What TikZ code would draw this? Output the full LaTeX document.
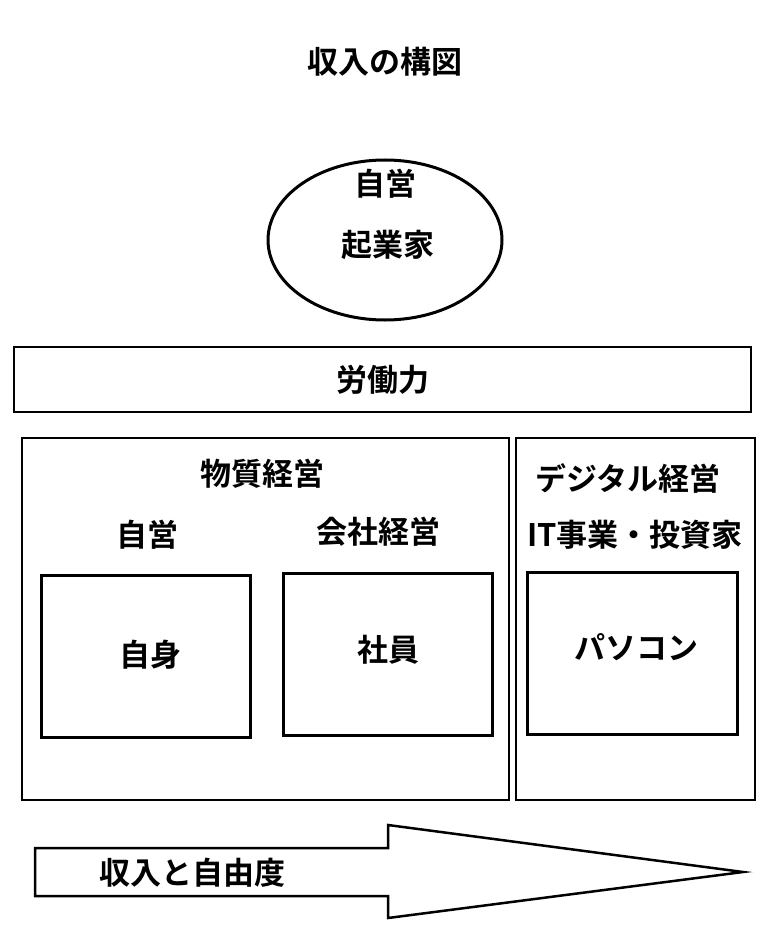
\documentclass[tikz,border=0pt]{standalone}
\usepackage{fontspec}
\setmainfont{Noto Sans CJK JP}[BoldFont={Noto Sans CJK JP Bold}]
\usetikzlibrary{shapes.geometric}
\tikzset{
    frame/.style = {draw, rectangle, line width=1.2pt, inner sep=0pt},
    block/.style = {draw, rectangle, line width=3pt, inner sep=0pt,
        minimum width=209pt, minimum height=162pt},
    txt/.style = {font=\fontsize{31}{36}\selectfont\bfseries, inner sep=0pt},
    bigarrow/.style = {draw, line width=2.5pt, line join=miter}
}

\begin{document}
\begin{tikzpicture}[x=1pt, y=-1pt]
    \useasboundingbox (0,0) rectangle (773,936);
    \node [txt] (title) at (385,62) {収入の構図};
    % top
    \node [draw, ellipse, line width=3pt, minimum width=234pt, minimum height=160pt] (self) at (385,240) {};
    \node [txt] (selfa) at (385,184) {自営};
    \node [txt] (selfb) at (388,245) {起業家};
    \node [frame, minimum width=737pt, minimum height=65pt] (labor) at (382.5,379.5) {};
    \node [txt] at (labor) {労働力};
    % physical
    \node [frame, minimum width=487pt, minimum height=362pt] (phys) at (265.5,619) {};
    \node [txt] (physt) at (262,474) {物質経営};
    \node [txt] (own) at (147,535) {自営};
    \node [txt] (corp) at (378,532) {会社経営};
    \node [block] (me) at (145.5,656) {};
    \node [txt] at (150,655) {自身};
    \node [block] (staff) at (388,654) {};
    \node [txt] at (388,650) {社員};
    % digital
    \node [frame, minimum width=239pt, minimum height=362pt] (digi) at (635.5,619) {};
    \node [txt] (digit) at (628,478) {デジタル経営};
    \node [txt] (itbiz) at (635,535) {IT事業・投資家};
    \node [block, minimum width=210pt] (pc) at (632,653) {};
    \node [txt] at (636,647) {パソコン};
    % arrow
    \draw [bigarrow] (35,848) -- (388,848) -- (388,825) -- (743,872)
        -- (388,918) -- (388,896) -- (35,896) -- cycle;
    \node [txt] (gain) at (192,873) {収入と自由度};
\end{tikzpicture}
\end{document}
